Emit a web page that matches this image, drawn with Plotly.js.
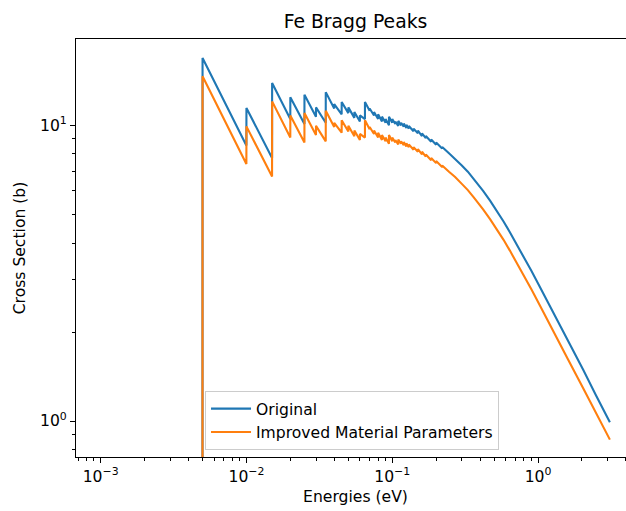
<!DOCTYPE html>
<html>
<head>
<meta charset="utf-8">
<script src="https://cdn.plot.ly/plotly-3.0.1.min.js"></script>
<style>
html, body { margin: 0; padding: 0; overflow: hidden; background: #fff; }
#chart { width: 650px; height: 511px; }
</style>
</head>
<body>
<div id="chart"></div>
<script>
// Energies (eV) at which the curves were read (edges listed as just-below / at edge)
const energies = [
  0.00499, 0.005, 0.00999, 0.01, 0.01499, 0.015, 0.01999, 0.02, 0.02499, 0.025,
  0.02999, 0.03, 0.03499, 0.035, 0.03999, 0.04, 0.04499, 0.045, 0.04999, 0.05,
  0.05499, 0.055, 0.05999, 0.06, 0.06499, 0.065, 0.06999, 0.07, 0.07499, 0.075,
  0.07999, 0.08, 0.08499, 0.085, 0.08999, 0.09, 0.09499, 0.095, 0.09999, 0.1,
  0.10499, 0.105, 0.1099, 0.11, 0.1149, 0.115, 0.1199, 0.12, 0.1249, 0.125,
  0.1299, 0.13, 0.1399, 0.14, 0.1499, 0.15, 0.1599, 0.16, 0.1699, 0.17,
  0.1849, 0.185, 0.1999, 0.2, 0.2199, 0.22, 0.245, 0.27, 0.3, 0.33,
  0.36, 0.39, 0.42, 0.47, 0.52, 0.58, 0.641, 0.71, 0.79, 0.9,
  1.03, 1.18, 1.34, 1.6, 2.04, 2.5, 3.11
];
// Cross section (b), "Original"
const original = [
  0.01, 16.9, 8.55, 11.45, 7.75, 13.9, 10.5, 12.45, 10.1, 12.7,
  10.7, 11.5, 10.2, 12.95, 11.4, 11.8, 10.9, 12.0, 11.0, 11.5,
  10.6, 11.1, 10.3, 10.8, 10.5, 12.0, 11.2, 11.4, 10.8, 11.1,
  10.5, 10.9, 10.3, 10.7, 10.2, 10.5, 10.0, 10.7, 10.2, 10.5,
  10.1, 10.3, 9.95, 10.35, 10.0, 10.2, 9.9, 10.15, 9.8, 10.05,
  9.75, 9.95, 9.55, 9.75, 9.4, 9.6, 9.2, 9.4, 9.05, 9.2,
  8.8, 8.95, 8.6, 8.75, 8.35, 8.45, 8.05, 7.72, 7.32, 6.97,
  6.62, 6.3, 6.0, 5.55, 5.16, 4.73, 4.35, 3.98, 3.62, 3.22,
  2.84, 2.5, 2.22, 1.87, 1.49, 1.22, 0.99
];
// Cross section (b), "Improved Material Parameters"
const improved = [
  0.01, 14.65, 7.4, 9.92, 6.71, 12.05, 9.1, 10.8, 8.75, 11.0,
  9.27, 9.96, 8.83, 11.2, 9.87, 10.2, 9.44, 10.4, 9.53, 9.96,
  9.18, 9.61, 8.92, 9.35, 9.09, 10.4, 9.7, 9.87, 9.35, 9.61,
  9.09, 9.44, 8.92, 9.27, 8.83, 9.09, 8.66, 9.27, 8.83, 9.09,
  8.75, 8.92, 8.62, 8.96, 8.66, 8.83, 8.57, 8.79, 8.49, 8.7,
  8.44, 8.62, 8.27, 8.44, 8.14, 8.31, 7.97, 8.14, 7.84, 7.97,
  7.62, 7.75, 7.45, 7.58, 7.23, 7.32, 6.97, 6.69, 6.34, 6.04,
  5.73, 5.46, 5.2, 4.81, 4.47, 4.1, 3.77, 3.45, 3.13, 2.79,
  2.46, 2.17, 1.92, 1.62, 1.29, 1.06, 0.865
];
const seriesNames = ['Original', 'Improved Material Parameters'];
const seriesColors = ['#1f77b4', '#ff7f0e'];

// Tick values / labels
const xTickVals = [0.001, 0.01, 0.1, 1];
const xTickText = ['10<sup>\u22123</sup>', '10<sup>\u22122</sup>', '10<sup>\u22121</sup>', '10<sup>0</sup>'];
const xMinorVals = [0.0007, 0.0008, 0.0009,
  0.002, 0.003, 0.004, 0.005, 0.006, 0.007, 0.008, 0.009,
  0.02, 0.03, 0.04, 0.05, 0.06, 0.07, 0.08, 0.09,
  0.2, 0.3, 0.4, 0.5, 0.6, 0.7, 0.8, 0.9,
  2, 3, 4];
const yTickVals = [1, 10];
const yTickText = ['10<sup>0</sup>', '10<sup>1</sup>'];
const yMinorVals = [0.8, 0.9, 2, 3, 4, 5, 6, 7, 8, 9];

const traces = [original, improved].map((ys, i) => ({
  type: 'scatter',
  mode: 'lines',
  x: energies,
  y: ys,
  name: seriesNames[i],
  line: { color: seriesColors[i], width: 2.1 },
  hoverinfo: 'skip'
}));

const FS = 15.6;
const axisCommon = {
  type: 'log',
  showgrid: false,
  zeroline: false,
  showline: true,
  linecolor: '#000',
  linewidth: 1.1,
  mirror: true,
  ticks: 'outside',
  ticklen: 5,
  tickwidth: 1,
  tickcolor: '#000',
  tickmode: 'array',
  tickfont: { size: FS, color: '#000' }
};

const layout = {
  width: 650,
  height: 511,
  margin: { l: 76, r: 15, t: 39, b: 54 },
  paper_bgcolor: '#fff',
  plot_bgcolor: '#fff',
  font: { family: 'DejaVu Sans, sans-serif', color: '#000', size: FS },
  title: {
    text: 'Fe Bragg Peaks',
    font: { size: 18.8, color: '#000' },
    x: 0.5, xref: 'paper', xanchor: 'center',
    y: 1 - 21 / 511, yref: 'container', yanchor: 'middle'
  },
  xaxis: Object.assign({}, axisCommon, {
    range: [-3.169, 0.665],
    tickvals: xTickVals,
    ticktext: xTickText,
    minor: { tickmode: 'array', tickvals: xMinorVals, ticks: 'outside', ticklen: 3, tickwidth: 1, tickcolor: '#000', showgrid: false },
    title: { text: 'Energies (eV)', font: { size: FS, color: '#000' }, standoff: 6 }
  }),
  yaxis: Object.assign({}, axisCommon, {
    range: [-0.1217, 1.292],
    tickvals: yTickVals,
    ticktext: yTickText,
    minor: { tickmode: 'array', tickvals: yMinorVals, ticks: 'outside', ticklen: 3, tickwidth: 1, tickcolor: '#000', showgrid: false },
    title: { text: 'Cross Section (b)', font: { size: FS, color: '#000' }, standoff: 10 }
  }),
  showlegend: true,
  legend: {
    x: 0.2308, xanchor: 'left',
    y: 0.0167, yanchor: 'bottom',
    bgcolor: 'rgba(255,255,255,0.8)',
    bordercolor: '#cccccc',
    borderwidth: 1,
    itemwidth: 40,
    font: { size: FS, color: '#000' }
  }
};

Plotly.newPlot('chart', traces, layout, { staticPlot: true, displayModeBar: false });
</script>
</body>
</html>
